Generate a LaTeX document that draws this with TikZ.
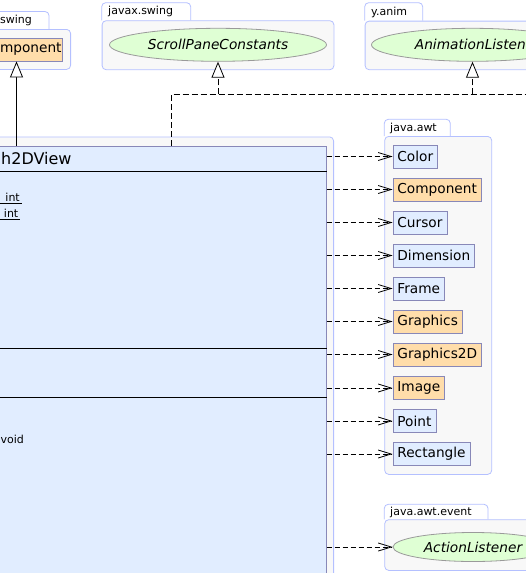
\documentclass[tikz,border=0pt]{standalone}
\usepackage{fontspec}
\setmainfont{DejaVu Sans}
\usetikzlibrary{arrows.meta,shapes.geometric}
\definecolor{pkgfill}{HTML}{F8F8F8}
\definecolor{pkgline}{HTML}{B4C0FF}
\definecolor{clsfill}{HTML}{E1EDFF}
\definecolor{clsline}{HTML}{8888B8}
\definecolor{ifcfill}{HTML}{DFFFD4}
\definecolor{ifcline}{HTML}{9A9A9A}
\definecolor{extfill}{HTML}{FFDDAA}
\begin{document}
\begin{tikzpicture}[x=1pt,y=-1pt,
  pkgbody/.style={draw=pkgline,fill=pkgfill,line width=0.8pt,rounded corners=4pt,inner sep=0pt},
  pkgtab/.style={draw=pkgline,fill=white,line width=0.8pt,rounded corners=4pt},
  pkglabel/.style={anchor=west,inner sep=0pt,font=\fontsize{11}{13}\selectfont},
  awtcls/.style={draw=clsline,fill=clsfill,line width=0.8pt,anchor=west,minimum height=23pt,inner xsep=4.5pt,inner ysep=0pt,font=\fontsize{13.7}{16}\selectfont},
  extcls/.style={awtcls,fill=extfill},
  ifc/.style={ellipse,draw=ifcline,fill=ifcfill,line width=0.8pt,inner sep=0pt,font=\fontsize{13.7}{16}\selectfont\itshape},
  dep/.style={draw=black,line width=0.8pt,dash pattern=on 5pt off 3pt,-{Straight Barb[length=13pt,width=8pt]}},
  real/.style={draw=black,line width=0.8pt,dash pattern=on 6pt off 3pt},
  realtip/.style={real,-{Triangle[length=16pt,width=13pt,fill=white]}},
  inh/.style={draw=black,line width=0.8pt,-{Triangle[length=16pt,width=13pt,fill=white]}},
  member/.style={inner sep=0pt,font=\fontsize{11}{13}\selectfont},
  sep/.style={draw=black,line width=0.8pt},
]
\useasboundingbox (0,0) rectangle (526,573);
\clip (0,0) rectangle (526,573);

% package of the main class
\node[pkgbody, anchor=north east, minimum width=500pt, minimum height=500pt] (pview) at (334,136.5) {};

% top-left package
\draw[pkgtab] (-60,29) -- (-60,11.5) -- (49,11.5) -- (49,29);
\node[pkgbody, anchor=north east, minimum width=200pt, minimum height=40pt] (pswing) at (71,29) {};
\node[pkglabel, anchor=east] (lswing) at (32,20.5) {swing};
\node[extcls, anchor=east, minimum width=90pt] (jcomp) at (63,49.5) {};
\node[inner sep=0pt, anchor=east, font=\fontsize{13.7}{16}\selectfont] (jcomptxt) at (61.8,49.5) {mponent};

% javax.swing
\draw[pkgtab] (101.7,20.3) -- (101.7,2.7) -- (190.7,2.7) -- (190.7,20.3);
\node[pkgbody, anchor=north west, minimum width=231.8pt, minimum height=49pt] (pjs) at (101.7,20.3) {};
\node[pkglabel] (ljs) at (108,11.8) {javax.swing};
\node[ifc, minimum width=217pt, minimum height=33pt] (scroll) at (218,44.8) {ScrollPaneConstants};

% y.anim
\draw[pkgtab] (364.7,20.7) -- (364.7,2.7) -- (422.7,2.7) -- (422.7,20.7);
\node[pkgbody, anchor=north west, minimum width=200pt, minimum height=48.6pt] (panim) at (364.7,20.7) {};
\node[pkglabel] (lanim) at (371,12) {y.anim};
\node[ifc, minimum width=202pt, minimum height=33pt] (anim) at (472.5,44.8) {};
\node[inner sep=0pt, anchor=east, font=\fontsize{13.7}{16}\selectfont\itshape] (animtxt) at (526,44.8) {AnimationListen};

% java.awt
\draw[pkgtab] (384.3,136) -- (384.3,119.3) -- (450.3,119.3) -- (450.3,136);
\node[pkgbody, anchor=north west, minimum width=107pt, minimum height=338pt] (pawt) at (384.3,136) {};
\node[pkglabel] (lawt) at (390,128) {java.awt};
\node[awtcls] (color) at (392.5,156.5) {Color};
\node[extcls] (comp) at (392.5,189.5) {Component};
\node[awtcls] (cursor) at (392.5,222.5) {Cursor};
\node[awtcls] (dim) at (392.5,255.5) {Dimension};
\node[awtcls] (frame) at (392.5,288.5) {Frame};
\node[extcls] (gfx) at (392.5,321.5) {Graphics};
\node[extcls] (gfxtwo) at (392.5,354.5) {Graphics2D};
\node[extcls] (img) at (392.5,388) {Image};
\node[awtcls] (point) at (392.5,421) {Point};
\node[awtcls] (rect) at (392.5,454) {Rectangle};

% java.awt.event
\draw[pkgtab] (384.3,519.3) -- (384.3,504.3) -- (488,504.3) -- (488,519.3);
\node[pkgbody, anchor=north west, minimum width=200pt, minimum height=50.7pt] (pevt) at (384.3,519.3) {};
\node[pkglabel] (levt) at (390,512) {java.awt.event};
\node[ifc, minimum width=160pt, minimum height=29pt] (action) at (473,547) {ActionListener};

% main class
\node[draw=clsline, fill=clsfill, line width=0.8pt, anchor=north east, minimum width=500pt, minimum height=500pt, inner sep=0pt] (view) at (326.5,145.7) {};
\node[anchor=west, inner sep=0pt, font=\fontsize{16}{19}\selectfont] (title) at (1,158.5) {h2DView};
\coordinate (s1) at (0,171.5);
\coordinate (s2) at (0,348.3);
\coordinate (s3) at (0,397.3);
\draw[sep] (view.west |- s1) -- (view.east |- s1);
\draw[sep] (view.west |- s2) -- (view.east |- s2);
\draw[sep] (view.west |- s3) -- (view.east |- s3);
\node[member, anchor=base east] (intone) at (20,201) {int};
\draw[line width=0.7pt] (0,203) -- (21.5,203);
\node[member, anchor=base east] (inttwo) at (18.5,217) {int};
\draw[line width=0.7pt] (0,219) -- (19.5,219);
\node[member, anchor=base east] (void) at (24,443) {void};

% dependencies
\foreach \n in {color,comp,cursor,dim,frame,gfx,gfxtwo,img,point,rect,action}
  \draw[dep] (view.east |- \n.west) -- (\n.west);

% realizations
\coordinate (jr) at (171,94.3);
\coordinate (farright) at (560,94.3);
\draw[real] (view.north -| jr) -- (jr) -- (farright);
\draw[realtip] (scroll.south |- jr) -- (scroll.south);
\draw[realtip] (anim.south |- jr) -- (anim.south);

% inheritance
\coordinate (ix) at (16.5,0);
\draw[inh] (view.north -| ix) -- (jcomp.south -| ix);
\end{tikzpicture}
\end{document}
